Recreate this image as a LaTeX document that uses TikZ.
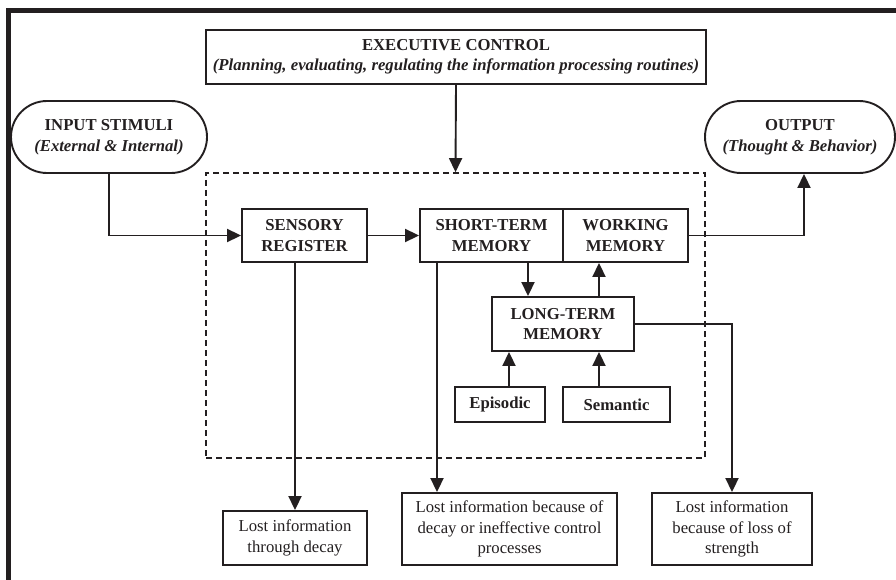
\documentclass[tikz,border=0pt]{standalone}
\usepackage{fontspec}
\setmainfont{Liberation Serif}
\usetikzlibrary{arrows.meta,calc}
\definecolor{ink}{RGB}{35,31,32}
\begin{document}
\begin{tikzpicture}[x=1pt,y=-1pt,
  every node/.style={text=ink},
  box/.style={draw=ink,line width=1.9pt,rectangle,inner sep=0pt,align=center,font=\fontsize{16.7}{20.5}\selectfont},
  bbox/.style={box,font=\fontsize{16.7}{20.5}\selectfont\bfseries},
  pill/.style={bbox,rounded corners=36pt},
  arr/.style={draw=ink,line width=1.9pt,-{Triangle[length=14pt,width=13pt]}}]
\useasboundingbox (0,0) rectangle (896,580);
% frame
\draw[ink,line width=4.8pt] (8.7,580) -- (8.7,10.3) -- (896,10.3);
% nodes
\node[bbox,minimum width=500pt,minimum height=54pt] (exec) at (456,57)
  {EXECUTIVE CONTROL\\ \textit{(Planning, evaluating, regulating the information processing routines)}};
\node[pill,minimum width=196pt,minimum height=72pt] (input) at (109,137)
  {INPUT STIMULI\\ \textit{(External \& Internal)}};
\node[pill,minimum width=190pt,minimum height=72pt] (output) at (800,137)
  {OUTPUT\\ \textit{(Thought \& Behavior)}};
\node[draw=ink,line width=1.7pt,dash pattern=on 6pt off 4pt,rectangle,inner sep=0pt,
  minimum width=499pt,minimum height=285pt] (proc) at (455.5,315.5) {};
\node[bbox,minimum width=125pt,minimum height=53pt] (sens) at (304.5,235.5) {SENSORY\\REGISTER};
\node[bbox,minimum width=143pt,minimum height=53pt] (stm) at (491.5,235.5) {SHORT-TERM\\MEMORY};
\node[bbox,minimum width=125pt,minimum height=53pt] (wm) at (625.5,235.5) {WORKING\\MEMORY};
\node[bbox,minimum width=142pt,minimum height=54pt] (ltm) at (563,324) {LONG-TERM\\MEMORY};
\node[bbox,minimum width=90pt,minimum height=35pt] (epi) at (500,404.5) {Episodic};
\node[bbox,minimum width=107pt,minimum height=35pt] (sem) at (616.5,404.5) {Semantic};
\node[box,minimum width=144pt,minimum height=54pt] (lost1) at (295,538) {Lost information\\through decay};
\node[box,minimum width=215pt,minimum height=72pt] (lost2) at (509.5,529) {Lost information because of\\decay or ineffective control\\processes};
\node[box,minimum width=160pt,minimum height=72pt] (lost3) at (732,529) {Lost information\\because of loss of\\strength};
% connectors
\draw[arr] (exec.south) -- (proc.north);
\draw[arr] (input.south) |- (sens.west);
\draw[arr] (sens.east) -- (stm.west);
\draw[arr] (wm.east) -| ([xshift=4pt]output.south);
\draw[arr] ([xshift=36.5pt]stm.south) -- ([xshift=36.5pt]stm.south |- ltm.north);
\draw[arr] ([xshift=36pt]ltm.north) -- ([xshift=36pt]ltm.north |- wm.south);
\draw[arr] ([xshift=9pt]epi.north) -- ([xshift=9pt]epi.north |- ltm.south);
\draw[arr] ([xshift=-17.5pt]sem.north) -- ([xshift=-17.5pt]sem.north |- ltm.south);
\draw[arr] (ltm.east) -| (lost3.north);
\draw[arr] (sens.south -| lost1.north) -- (lost1.north);
\draw[arr] ([xshift=-54.5pt]stm.south) -- ([xshift=-54.5pt]stm.south |- lost2.north);
\end{tikzpicture}
\end{document}
